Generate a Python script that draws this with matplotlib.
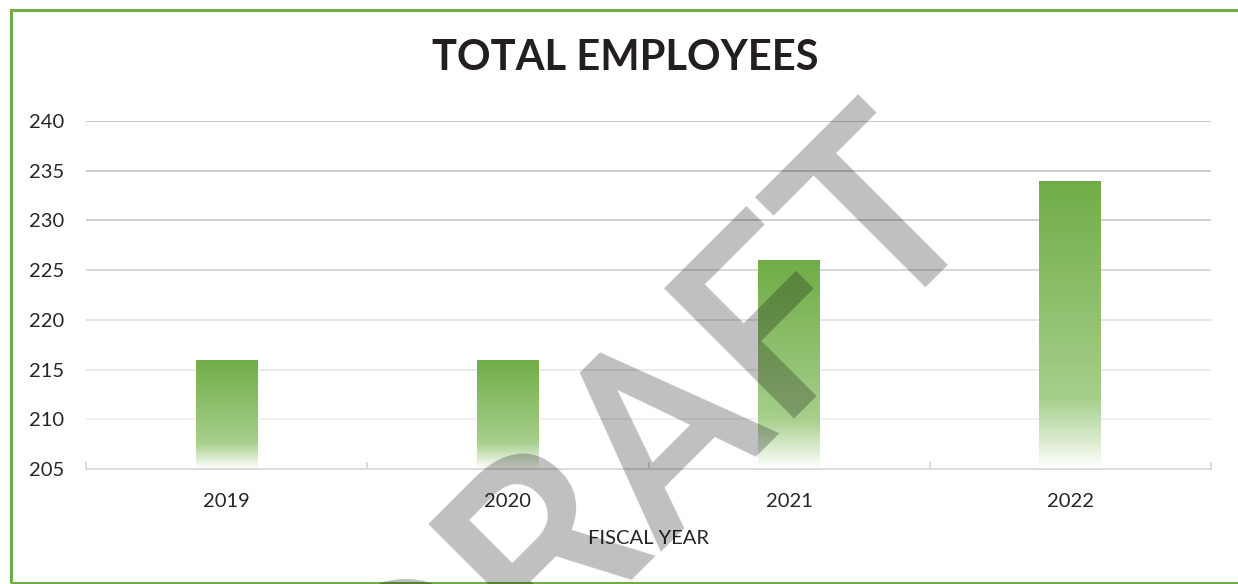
import numpy as np
import matplotlib
matplotlib.use("Agg")
import matplotlib.pyplot as plt
from matplotlib.colors import LinearSegmentedColormap
from matplotlib.patches import Rectangle

years = ["2019", "2020", "2021", "2022"]
employees = [216, 216, 226, 234]
y_ticks = [205, 210, 215, 220, 225, 230, 235, 240]

GREEN = "#70AD47"
plt.rcParams["font.family"] = ["Lato", "DejaVu Sans"]

fig = plt.figure(figsize=(12.38, 5.84), dpi=100)
ax = fig.add_axes([86 / 1238, 1 - 469 / 584, (1211 - 86) / 1238, (469 - 121) / 584])

# green fading to white at the base of each bar
bar_cmap = LinearSegmentedColormap.from_list(
    "bar_fade", [(0.0, "#ffffff"), (0.24, "#a6cf8b"), (1.0, GREEN)])
grad = np.linspace(0, 1, 256).reshape(-1, 1)

x = np.arange(len(years))
bars = ax.bar(x, employees, width=0.22, bottom=0, color="none", zorder=2)
for xi, val, bar in zip(x, employees, bars):
    im = ax.imshow(grad, extent=[xi - 0.11, xi + 0.11, y_ticks[0], val],
                   origin="lower", aspect="auto", cmap=bar_cmap, zorder=2)
    im.set_clip_path(bar)

ax.set_xlim(-0.5, len(years) - 0.5)
ax.set_ylim(y_ticks[0], y_ticks[-1])
ax.set_yticks(y_ticks)
ax.set_xticks(x)
ax.set_xticklabels(years)
ax.set_xticks(np.arange(-0.5, len(years)), minor=True)

# gridlines get lighter toward the bottom
grid_colors = ["#d9d9d9", "#f0f0f0", "#e9e9e9", "#e2e2e2", "#d6d6d6", "#cccccc", "#c8c8c8", "#c6c6c6"]
for yv, c in zip(y_ticks[1:], grid_colors[1:]):
    ax.axhline(yv, color=c, lw=1.3, zorder=1)

for s in ["top", "right", "left"]:
    ax.spines[s].set_visible(False)
ax.spines["bottom"].set_color("#d9d9d9")
ax.spines["bottom"].set_linewidth(1.3)

ax.tick_params(axis="y", length=0, pad=16, labelsize=14.5, labelcolor="#262626")
ax.tick_params(axis="x", which="major", length=0, pad=17, labelsize=14.5, labelcolor="#262626")
ax.tick_params(axis="x", which="minor", direction="in", length=5, width=1.3, color="#d9d9d9")
ax.set_xlabel("FISCAL YEAR", fontsize=14.5, color="#262626", labelpad=15)

fig.text(625 / 1238, 1 - 58 / 584, "TOTAL EMPLOYEES", ha="center", va="center",
         fontsize=30, fontweight="bold", color="#231f20")

# outer frame
fig.patches.append(Rectangle((10.5 / 1238, 1 - 582.5 / 584), 1.1, (582.5 - 9.5) / 584,
                             transform=fig.transFigure, fill=False,
                             edgecolor=GREEN, linewidth=2.2, zorder=5))

# watermark
fig.text(704 / 1238, 1 - 490 / 584, "DRAFT", rotation=45, rotation_mode="anchor",
         ha="center", va="baseline", fontsize=186, family="Roboto",
         fontweight="medium", color="black", alpha=0.25, zorder=10)

fig.savefig("out.png", dpi=100)
